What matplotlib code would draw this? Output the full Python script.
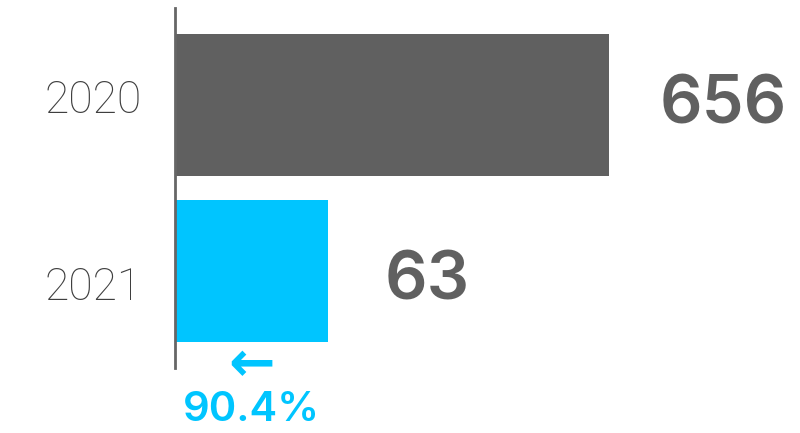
import matplotlib.pyplot as plt

years = ['2020', '2021']
counts = [656, 63]
bar_colors = ['#606060', '#00C5FF']

fig = plt.figure(figsize=(8, 4.33), dpi=100)
ax = fig.add_axes([0.21875, 0.150, 0.78125, 0.8314])

y = list(range(len(years)))
x_left = 17.65
ax.set_xscale('log')
ax.barh(y, [c - x_left for c in counts], left=x_left, height=0.86, color=bar_colors)
ax.set_xlim(x_left, 3220)
ax.set_ylim(1.584, -0.584)

# value labels to the right of each bar
label_offsets = [(36.5, -1), (41, -8)]
for yi, c, off in zip(y, counts, label_offsets):
    ax.annotate(str(c), (c, yi), xytext=off, textcoords='offset points',
                ha='left', va='center', fontsize=48, fontweight='semibold',
                family='Inter', color='#606060')

# drop from 2020 to 2021
drop = (counts[0] - counts[1]) / counts[0] * 100
mid = (x_left * counts[1]) ** 0.5
ax.annotate('\u2190', (mid, 1), xytext=(0, -68.5), textcoords='offset points',
            ha='center', va='center', fontsize=40, fontweight='bold',
            family='DejaVu Sans', color='#00C5FF')
ax.annotate(f'{drop:.1f}%', (mid, 1), xytext=(0, -100), textcoords='offset points',
            ha='center', va='center', fontsize=30, fontweight='semibold',
            family='Inter', color='#00C5FF')

ax.set_yticks([-0.054, 1.072])
ax.set_yticklabels(years, fontsize=32, family='Roboto', fontweight='light', color='#3f3f3f')
ax.tick_params(axis='y', length=0, pad=24)
ax.set_xticks([])
ax.minorticks_off()
ax.tick_params(axis='x', which='both', length=0, labelbottom=False)

for side in ['top', 'right', 'bottom']:
    ax.spines[side].set_visible(False)
ax.spines['left'].set_color('#666666')
ax.spines['left'].set_linewidth(2)

fig.savefig('out.png', dpi=100)
